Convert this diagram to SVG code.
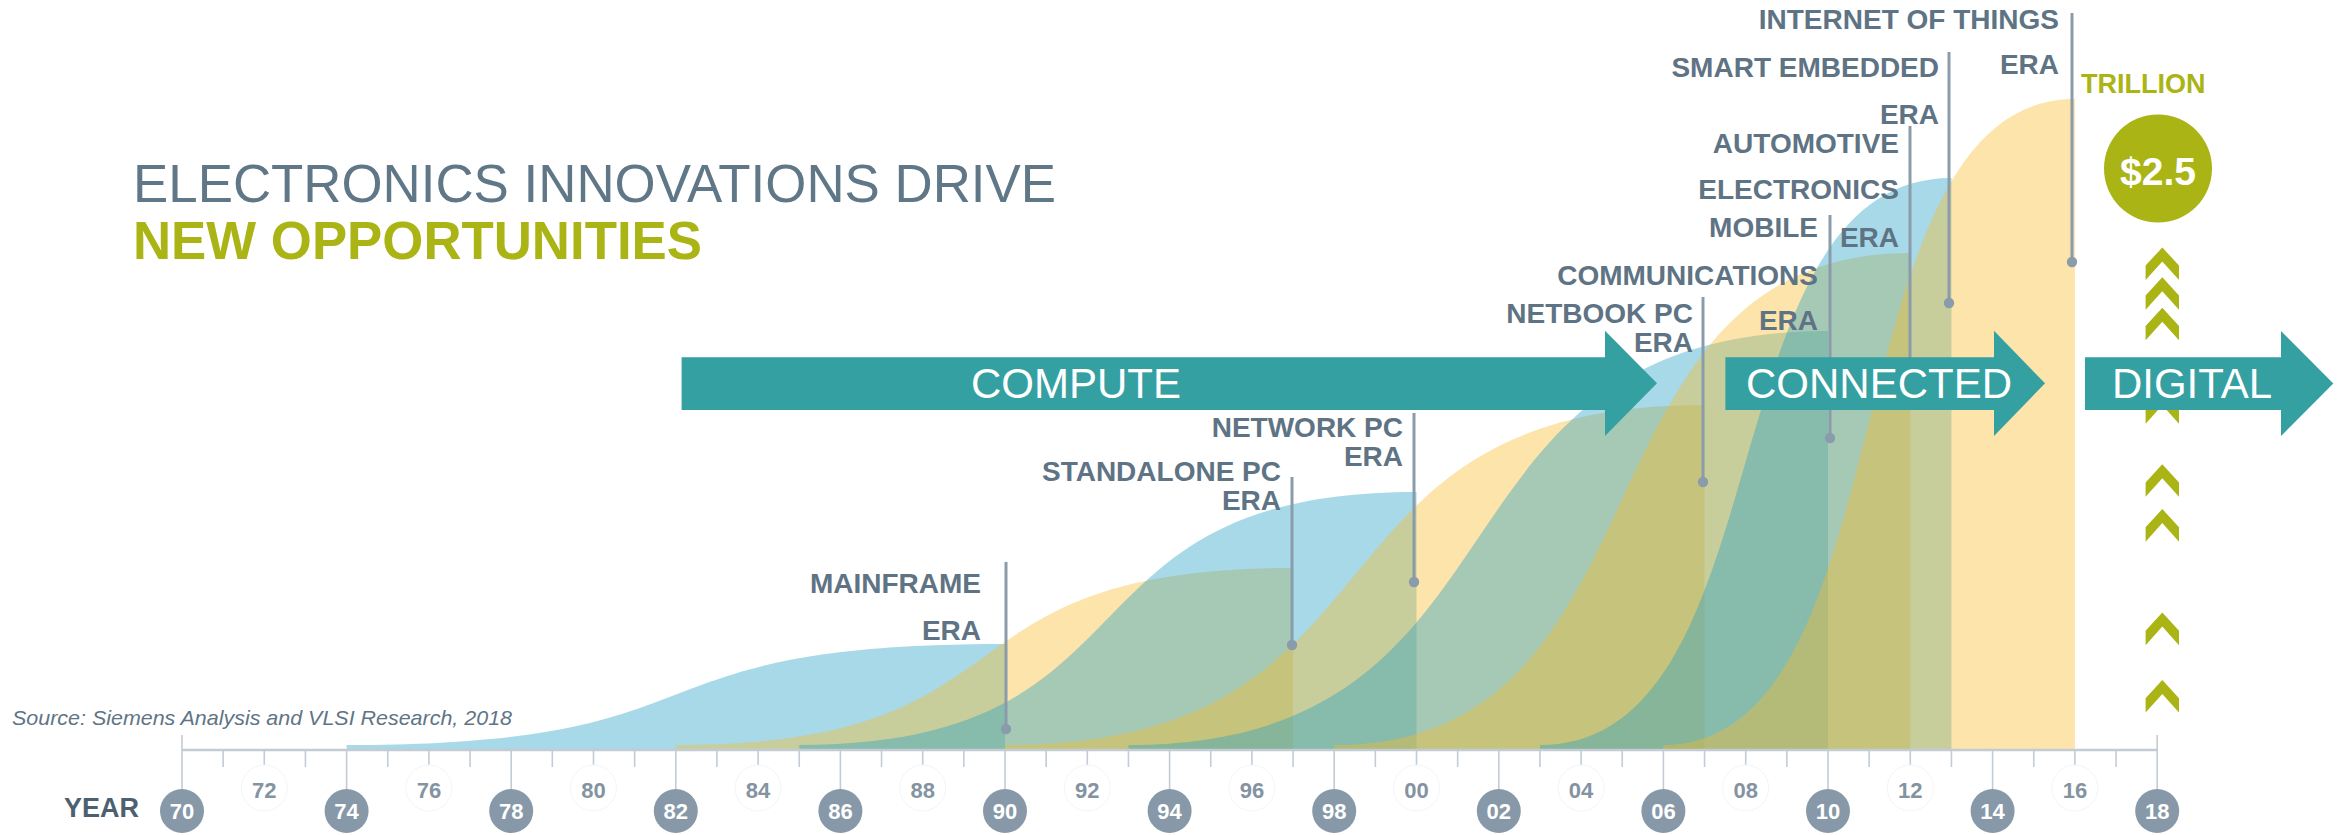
<svg xmlns="http://www.w3.org/2000/svg" width="2345" height="835" viewBox="0 0 2345 835">
<defs>
<style>
text{font-family:"Liberation Sans",Arial,Helvetica,sans-serif}
.lbl{font-weight:bold;font-size:28px;fill:#5e7384;text-anchor:end}
.arrow{fill:#34a0a2}
.atext{font-size:42px;fill:#ffffff;text-anchor:middle}
.blue{fill:#25a0c5;fill-opacity:0.4}
.yel{fill:#f7bb2a;fill-opacity:0.4}
.lead{stroke:#8a9bab;stroke-width:3;fill:none}
.dot{fill:#8a9bab}
.yr{font-weight:bold;font-size:22px;text-anchor:middle}
.ycirc{fill:#8799a8}
.yfaint{fill:#ffffff;stroke:#f3f5f7;stroke-width:1}
.chev{fill:#aab414}
.tick{stroke:#c3ccd4;stroke-width:1.6;fill:none}
</style>
<path id="chev" d="M0,0 L16.7,18.2 V32.6 L0,14 L-16.7,32.6 V18.2 Z"/>
</defs>
<rect width="2345" height="835" fill="#ffffff"/>

<!-- era curves -->
<g id="curves">
<path class="blue" d="M346.6,750 V745 C741.6,745 610,644 1005,644 V750 Z"/>
<path class="yel" d="M675.8,750 V745 C1046.2,745 922.7,568 1293.05,568 V750 Z"/>
<path class="blue" d="M799.25,750 V745 C1169.6,745 1046.2,492 1416.5,492 V750 Z"/>
<path class="yel" d="M1005,750 V745 C1424.7,745 1284.8,405 1704.55,405 V750 Z"/>
<path class="blue" d="M1128.45,750 V745 C1548.2,745 1408.3,331 1828,331 V750 Z"/>
<path class="yel" d="M1334.2,750 V745 C1679.9,745 1564.6,253 1910.3,253 V750 Z"/>
<path class="blue" d="M1540,750 V745 C1786.9,745 1704.6,178 1951.45,178 V750 Z"/>
<path class="yel" d="M1663.4,750 V745 C1910.3,745 1828,99 2074.9,99 V750 Z"/>
</g>

<!-- axis -->
<g id="axis">
<line x1="182" y1="750" x2="2157.2" y2="750" stroke="#c3ccd4" stroke-width="2.5"/>
<path class="tick" d="M182,735 V789 M223.15,750 v17 M264.3,750 v17 M305.45,750 v17 M346.6,750 V789 M387.75,750 v17 M428.9,750 v17 M470.05,750 v17 M511.2,750 V789 M552.35,750 v17 M593.5,750 v17 M634.65,750 v17 M675.8,750 V789 M716.95,750 v17 M758.1,750 v17 M799.25,750 v17 M840.4,750 V789 M881.55,750 v17 M922.7,750 v17 M963.85,750 v17 M1005,750 V789 M1046.15,750 v17 M1087.3,750 v17 M1128.45,750 v17 M1169.6,750 V789 M1210.75,750 v17 M1251.9,750 v17 M1293.05,750 v17 M1334.2,750 V789 M1375.35,750 v17 M1416.5,750 v17 M1457.65,750 v17 M1498.8,750 V789 M1539.95,750 v17 M1581.1,750 v17 M1622.25,750 v17 M1663.4,750 V789 M1704.55,750 v17 M1745.7,750 v17 M1786.85,750 v17 M1828,750 V789 M1869.15,750 v17 M1910.3,750 v17 M1951.45,750 v17 M1992.6,750 V789 M2033.75,750 v17 M2074.9,750 v17 M2116.05,750 v17 M2157.2,735 V789"/>
<text x="64" y="817" font-weight="bold" font-size="27" fill="#4d6070">YEAR</text>
<g id="year-faint">
<circle class="yfaint" cx="264.3" cy="788" r="23"/><circle class="yfaint" cx="428.9" cy="788" r="23"/><circle class="yfaint" cx="593.5" cy="788" r="23"/><circle class="yfaint" cx="758.1" cy="788" r="23"/><circle class="yfaint" cx="922.7" cy="788" r="23"/><circle class="yfaint" cx="1087.3" cy="788" r="23"/><circle class="yfaint" cx="1251.9" cy="788" r="23"/><circle class="yfaint" cx="1416.5" cy="788" r="23"/><circle class="yfaint" cx="1581.1" cy="788" r="23"/><circle class="yfaint" cx="1745.7" cy="788" r="23"/><circle class="yfaint" cx="1910.3" cy="788" r="23"/><circle class="yfaint" cx="2074.9" cy="788" r="23"/>
<g class="yr" fill="#8393a2">
<text x="264.3" y="798">72</text><text x="428.9" y="798">76</text><text x="593.5" y="798">80</text><text x="758.1" y="798">84</text><text x="922.7" y="798">88</text><text x="1087.3" y="798">92</text><text x="1251.9" y="798">96</text><text x="1416.5" y="798">00</text><text x="1581.1" y="798">04</text><text x="1745.7" y="798">08</text><text x="1910.3" y="798">12</text><text x="2074.9" y="798">16</text>
</g>
</g>
<g id="year-major">
<circle class="ycirc" cx="182" cy="811" r="22"/><circle class="ycirc" cx="346.6" cy="811" r="22"/><circle class="ycirc" cx="511.2" cy="811" r="22"/><circle class="ycirc" cx="675.8" cy="811" r="22"/><circle class="ycirc" cx="840.4" cy="811" r="22"/><circle class="ycirc" cx="1005" cy="811" r="22"/><circle class="ycirc" cx="1169.6" cy="811" r="22"/><circle class="ycirc" cx="1334.2" cy="811" r="22"/><circle class="ycirc" cx="1498.8" cy="811" r="22"/><circle class="ycirc" cx="1663.4" cy="811" r="22"/><circle class="ycirc" cx="1828" cy="811" r="22"/><circle class="ycirc" cx="1992.6" cy="811" r="22"/><circle class="ycirc" cx="2157.2" cy="811" r="22"/>
<g class="yr" fill="#ffffff">
<text x="182" y="819">70</text><text x="346.6" y="819">74</text><text x="511.2" y="819">78</text><text x="675.8" y="819">82</text><text x="840.4" y="819">86</text><text x="1005" y="819">90</text><text x="1169.6" y="819">94</text><text x="1334.2" y="819">98</text><text x="1498.8" y="819">02</text><text x="1663.4" y="819">06</text><text x="1828" y="819">10</text><text x="1992.6" y="819">14</text><text x="2157.2" y="819">18</text>
</g>
</g>
</g>

<!-- leader lines (connectors) -->
<g id="connectors">
<line class="lead" x1="1006" y1="562" x2="1006" y2="729"/><circle class="dot" cx="1006" cy="729" r="5.2"/>
<line class="lead" x1="1292" y1="477" x2="1292" y2="645"/><circle class="dot" cx="1292" cy="645" r="5.2"/>
<line class="lead" x1="1414" y1="413" x2="1414" y2="582"/><circle class="dot" cx="1414" cy="582" r="5.2"/>
<line class="lead" x1="1703" y1="297" x2="1703" y2="482"/><circle class="dot" cx="1703" cy="482" r="5.2"/>
<line class="lead" x1="1830" y1="215" x2="1830" y2="438"/><circle class="dot" cx="1830" cy="438" r="5.2"/>
<line class="lead" x1="1910" y1="126" x2="1910" y2="370"/>
<line class="lead" x1="1949" y1="52" x2="1949" y2="303"/><circle class="dot" cx="1949" cy="303" r="5.2"/>
<line class="lead" x1="2072" y1="13" x2="2072" y2="262"/><circle class="dot" cx="2072" cy="262" r="5.2"/>
</g>

<!-- growth chevrons -->
<g id="chevrons" class="chev">
<use href="#chev" x="2162.3" y="247.4"/>
<use href="#chev" x="2162.3" y="277.2"/>
<use href="#chev" x="2162.3" y="307.7"/>
<use href="#chev" x="2162.3" y="391.2"/>
<use href="#chev" x="2162.3" y="464.2"/>
<use href="#chev" x="2162.3" y="509.1"/>
<use href="#chev" x="2162.3" y="612.6"/>
<use href="#chev" x="2162.3" y="680"/>
</g>

<!-- phase arrows -->
<g id="arrow-compute">
<polygon class="arrow" points="681.6,357.3 1605,357.3 1605,330.7 1657,383.3 1605,436 1605,410 681.6,410"/>
<text class="atext" x="1076" y="398">COMPUTE</text>
</g>
<g id="arrow-connected">
<polygon class="arrow" points="1725.4,357.3 1994,357.3 1994,330.7 2045,383.3 1994,436 1994,410 1725.4,410"/>
<text class="atext" x="1879" y="398">CONNECTED</text>
</g>
<g id="arrow-digital">
<polygon class="arrow" points="2085,357.3 2281,357.3 2281,330.9 2333.3,383.5 2281,436 2281,410 2085,410"/>
<text class="atext" x="2192" y="398">DIGITAL</text>
</g>

<!-- era labels -->
<g id="era-mainframe" class="lbl"><text x="981" y="593">MAINFRAME</text><text x="981" y="640">ERA</text></g>
<g id="era-standalone" class="lbl"><text x="1281" y="481">STANDALONE PC</text><text x="1281" y="510">ERA</text></g>
<g id="era-network" class="lbl"><text x="1403" y="437">NETWORK PC</text><text x="1403" y="466">ERA</text></g>
<g id="era-netbook" class="lbl"><text x="1693" y="323">NETBOOK PC</text><text x="1693" y="352">ERA</text></g>
<g id="era-mobile" class="lbl"><text x="1818" y="237">MOBILE</text><text x="1818" y="285">COMMUNICATIONS</text><text x="1818" y="330">ERA</text></g>
<g id="era-automotive" class="lbl"><text x="1899" y="153">AUTOMOTIVE</text><text x="1899" y="199">ELECTRONICS</text><text x="1899" y="247">ERA</text></g>
<g id="era-smart" class="lbl"><text x="1939" y="77">SMART EMBEDDED</text><text x="1939" y="124">ERA</text></g>
<g id="era-iot" class="lbl"><text x="2059" y="29">INTERNET OF THINGS</text><text x="2059" y="74">ERA</text></g>

<!-- value badge -->
<g id="value">
<text x="2081" y="93" font-weight="bold" font-size="27" fill="#aab414">TRILLION</text>
<circle cx="2158" cy="168.5" r="54" fill="#aab414"/>
<text x="2158" y="185" font-weight="bold" font-size="39" fill="#ffffff" text-anchor="middle">$2.5</text>
</g>

<!-- title -->
<g id="title">
<text x="133" y="202" font-size="54" fill="#5f7787" textLength="923" lengthAdjust="spacingAndGlyphs">ELECTRONICS INNOVATIONS DRIVE</text>
<text x="133" y="259" font-size="54" font-weight="bold" fill="#aab414" textLength="569" lengthAdjust="spacingAndGlyphs">NEW OPPORTUNITIES</text>
</g>

<text id="source" x="12" y="725" font-size="21" font-style="italic" fill="#5f7585" textLength="500" lengthAdjust="spacingAndGlyphs">Source: Siemens Analysis and VLSI Research, 2018</text>
</svg>
